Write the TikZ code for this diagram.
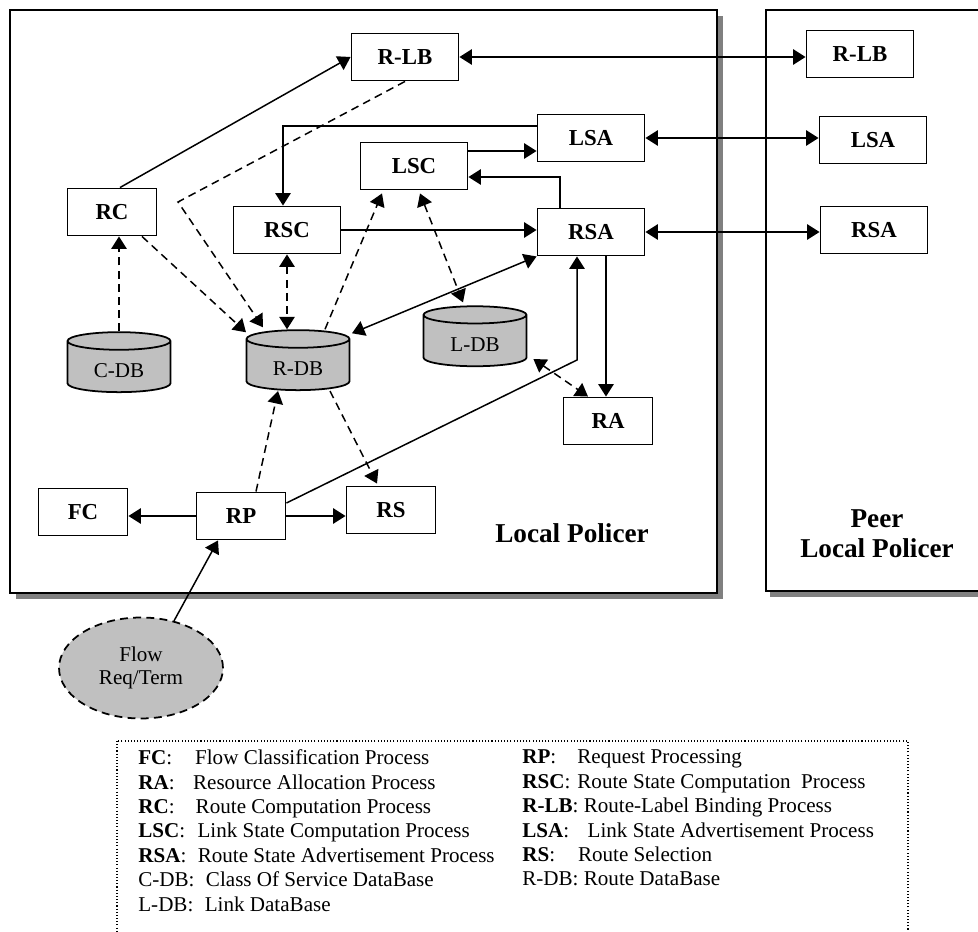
\documentclass[tikz,border=0pt]{standalone}
\usepackage{fontspec}
\setmainfont{Liberation Serif}
\usepackage{tikz}
\usetikzlibrary{arrows.meta,positioning,shapes.geometric,calc}
\definecolor{dbgray}{RGB}{192,192,192}
\definecolor{shadowgray}{RGB}{128,128,128}
\tikzset{
  proc/.style={draw=black,line width=1.1pt,fill=white,inner sep=0pt,minimum width=2.14cm,minimum height=0.94cm,font=\fontsize{13}{15}\selectfont\bfseries},
  sproc/.style={proc,minimum width=1.78cm},
  db/.style={cylinder,shape border rotate=90,aspect=0.35,draw=black,line width=1pt,fill=dbgray,inner sep=0pt,minimum width=2.06cm,minimum height=1.2cm,text height=0.42cm,text depth=0pt,font=\fontsize{12}{14}\selectfont},
  arr/.style={->,>={Triangle[length=0.25cm,width=0.31cm]},draw=black,line width=0.85pt},
  both/.style={arr,<->},
  dsh/.style={dash pattern=on 4.5pt off 3pt},
  frame/.style={draw=black,line width=1.1pt,fill=white},
  caption/.style={font=\fontsize{15.5}{17}\selectfont\bfseries,align=center}
}

\begin{document}
\begin{tikzpicture}[x=0.02cm,y=-0.02cm,font=\fontsize{12}{13.9}\selectfont]
  \useasboundingbox (0,0) rectangle (978,932);
  % policer frames with shadow
  \fill[shadowgray] (16,16) rectangle (723,599);
  \draw[frame] (10,10) rectangle (717,593);
  \fill[shadowgray] (770,16) rectangle (1000,597);
  \draw[frame] (766,10) rectangle (1000,591);

  \node[proc] (rlb) at (405,57) {R-LB};
  \node[proc] (lsa) at (591,138) {LSA};
  \node[proc] (lsc) at (414,166) {LSC};
  \node[proc] (rsa) at (591,232) {RSA};
  \node[proc] (rsc) at (287,230) {RSC};
  \node[sproc] (rc) at (112,212) {RC};
  \node[sproc] (ra) at (608,421) {RA};
  \node[sproc] (fc) at (83,512) {FC};
  \node[sproc] (rp) at (241,516) {RP};
  \node[sproc] (rs) at (391,510) {RS};
  \node[db] (cdb) at (119,367) {C-DB};
  \node[db] (rdb) at (298,365) {R-DB};
  \node[db] (ldb) at (475,341) {L-DB};
  \node[proc] (prlb) at (860,54) {R-LB};
  \node[proc] (plsa) at (873,140) {LSA};
  \node[proc] (prsa) at (874,230) {RSA};
  \node[ellipse,draw=black,dsh,line width=1pt,fill=dbgray,minimum width=3.28cm,minimum height=2.02cm,align=center,font=\fontsize{12}{13}\selectfont] (flow) at (141,668) {Flow\\Req/Term};
  \node[caption] (lp) at (572,533) {Local Policer};
  \node[caption] (plp) at (877,534) {Peer\\Local Policer};

  \coordinate (lbturn) at (178,202);
  \coordinate (rpturn) at (577,360);
  \coordinate (lsaout) at ($(lsa.west)+(0,-12)$);
  \coordinate (lscout) at ($(lsc.east)+(0,-15)$);
  \coordinate (lscin) at ($(lsc.east)+(0,11)$);
  \coordinate (rpout) at ($(rp.east)+(0,-13)$);
  \coordinate (rsaout) at ($(rsa.south)+(15,0)$);

  % solid links
  \draw[arr] ($(rc.north)+(8,0)$) -- (rlb.west);
  \draw[both] (rlb.east) -- (rlb.east -| prlb.west);
  \draw[both] (lsa.east) -- (lsa.east -| plsa.west);
  \draw[both] (rsa.east) -- (rsa.east -| prsa.west);
  \draw[arr] (lsaout) -| ($(rsc.north)+(-4,0)$);
  \draw[arr] (lscout) -- (lscout -| lsa.west);
  \draw[arr] ($(rsa.north)+(-31,0)$) |- (lscin);
  \draw[arr] (rsc.east) -- (rsc.east -| rsa.west);
  \draw[both] ($(rdb.north)+(54,4)$) -- (rsa.south west);
  \draw[arr] (rsaout) -- (rsaout |- ra.north);
  \draw[arr] (rpout) -- (rpturn) -- (rpturn |- rsa.south);
  \draw[arr] (rp.west) -- (rp.west -| fc.east);
  \draw[arr] (rp.east) -- (rp.east -| rs.west);
  \draw[arr] (flow.55) -- ($(rp.south)+(-23,0)$);

  % dashed links
  \draw[arr,dsh] (cdb.north) -- (cdb.north |- rc.south);
  \draw[arr,dsh] ($(rc.south)+(30,0)$) -- ($(rdb.north)+(-52,3)$);
  \draw[arr,dsh] (rlb.south) -- (lbturn) -- ($(rdb.north)+(-35,-2)$);
  \draw[both,dsh] (rsc.south) -- (rsc.south |- rdb.north);
  \draw[arr,dsh] ($(rdb.north)+(27,0)$) -- ($(lsc.south)+(-32,3)$);
  \draw[both,dsh] ($(lsc.south)+(6,3)$) -- ($(ldb.north)+(-12,-3)$);
  \draw[both,dsh] ($(ldb.east)+(6,18)$) -- ($(ra.north)+(-20,0)$);
  \draw[arr,dsh] ($(rp.north)+(15,0)$) -- ($(rdb.south)+(-20,0)$);
  \draw[arr,dsh] ($(rdb.south)+(32,0)$) -- ($(rs.north)+(-14,-2)$);

  % legend
  \draw[line width=0.6pt,dash pattern=on 0.6pt off 1.2pt] (117,741) rectangle (908,960);
  \node[anchor=north west,inner sep=0pt,align=left] (keyl) at (138,749.5) {%
    \textbf{FC}:\hspace{13pt}Flow Classification Process\\
    \textbf{RA}:\hspace{10.5pt}Resource Allocation Process\\
    \textbf{RC}:\hspace{12pt}Route Computation Process\\
    \textbf{LSC}:\hspace{7pt}Link State Computation Process\\
    \textbf{RSA}:\hspace{6.5pt}Route State Advertisement Process\\
    C-DB:\hspace{6.5pt}Class Of Service DataBase\\
    L-DB:\hspace{6.5pt}Link DataBase};
  \node[anchor=north west,inner sep=0pt,align=left] (keyr) at (522,749.5) {%
    \textbf{RP}:\hspace{12pt}Request Processing\\
    \textbf{RSC}:\hspace{4pt}Route State Computation\hspace{6pt}Process\\
    \textbf{R-LB}: Route-Label Binding Process\\
    \textbf{LSA}:\hspace{10.5pt}Link State Advertisement Process\\
    \textbf{RS}:\hspace{13pt}Route Selection\\
    R-DB: Route DataBase};
\end{tikzpicture}
\end{document}
